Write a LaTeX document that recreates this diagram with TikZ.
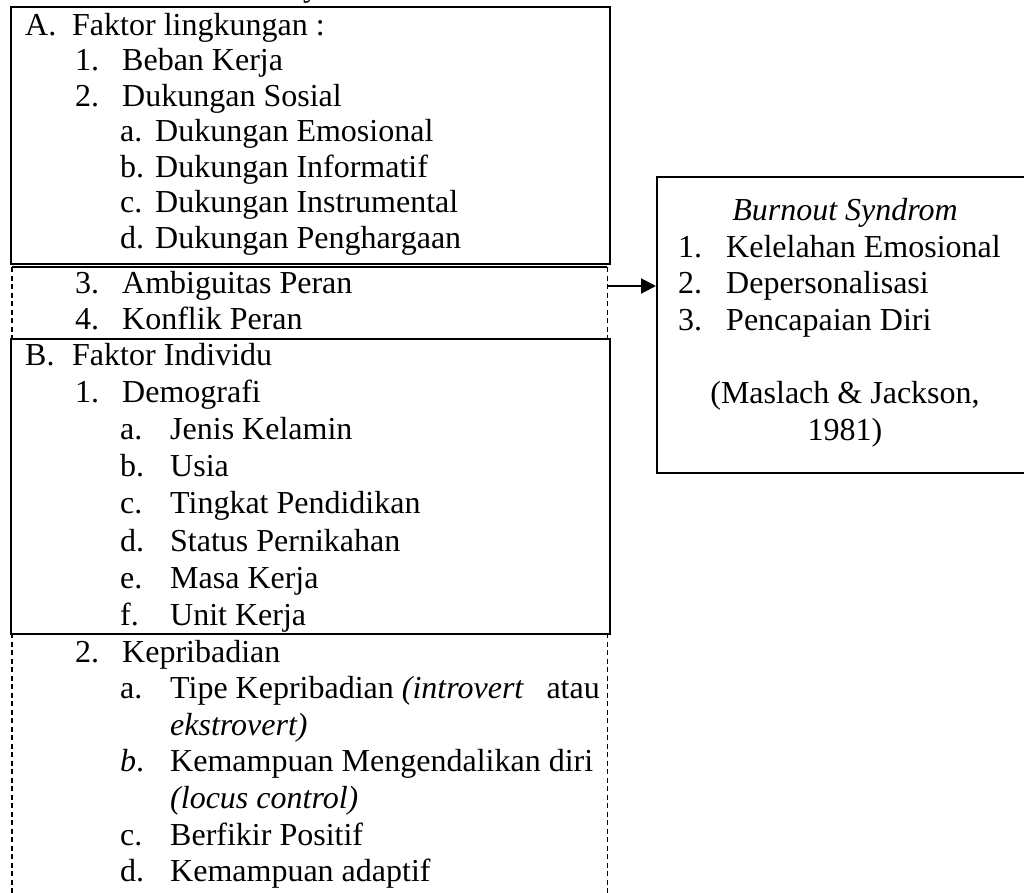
\documentclass[tikz,border=0pt]{standalone}
\usepackage{fontspec}
\setmainfont{Liberation Serif}
\usetikzlibrary{arrows.meta}
\begin{document}
\begin{tikzpicture}[x=1pt,y=-1pt,
  txt/.style={anchor=base west, inner sep=0pt, font=\fontsize{32}{36}\selectfont},
  rtxt/.style={anchor=base east, inner sep=0pt, font=\fontsize{32}{36}\selectfont},
  ctxt/.style={anchor=base, inner sep=0pt, font=\fontsize{32}{36}\selectfont},
  solidbox/.style={draw, line width=2pt, anchor=north west, inner sep=0pt},
  plainbox/.style={anchor=north west, inner sep=0pt},
  dashside/.style={line width=1.5pt, dash pattern=on 5pt off 3.5pt},
  thinline/.style={line width=1.5pt},
  conn/.style={line width=2pt, -{Triangle[length=15pt,width=15pt]}}]
\useasboundingbox (0,0) rectangle (1024,892);
\clip (0,0) rectangle (1024,892);
\fill[white] (0,0) rectangle (1024,892);

% fragment of text above, cut off
\node[txt] (frag) at (303,-4) {y};

% boxes
\node[solidbox, minimum width=599pt, minimum height=257pt] (boxA) at (10,6) {};
\node[solidbox, minimum width=599pt, minimum height=295pt] (boxB) at (10,338) {};
\node[solidbox, minimum width=380pt, minimum height=296pt] (burn) at (656,176) {};
\node[plainbox, minimum width=595pt, minimum height=71pt] (dashA) at (12,267) {};
\node[plainbox, minimum width=595pt, minimum height=300pt] (dashB) at (12,633) {};
\draw[thinline] (dashA.north west) -- (dashA.north east);
\draw[dashside] (dashA.north west) -- (dashA.south west);
\draw[dashside] (dashA.north east) -- (dashA.south east);
\draw[dashside] (dashB.north west) -- (dashB.south west);
\draw[dashside] (dashB.north east) -- (dashB.south east);

% arrow
\coordinate (arrS) at (607,286);
\draw[conn] (arrS) -- (arrS -| burn.west);

% Box A
\node[txt] (la) at (25,35) {A.};
\node[txt] (ta) at (72,35) {Faktor lingkungan :};
\node[txt] (l1) at (75,70.5) {1.};
\node[txt] (t1) at (122,70.5) {Beban Kerja};
\node[txt] (l2) at (75,106) {2.};
\node[txt] (t2) at (122,106) {Dukungan Sosial};
\node[txt] (l2a) at (120,141.5) {a.};
\node[txt] (t2a) at (155,141.5) {Dukungan Emosional};
\node[txt] (l2b) at (120,177) {b.};
\node[txt] (t2b) at (155,177) {Dukungan Informatif};
\node[txt] (l2c) at (120,212.5) {c.};
\node[txt] (t2c) at (155,212.5) {Dukungan Instrumental};
\node[txt] (l2d) at (120,248) {d.};
\node[txt] (t2d) at (155,248) {Dukungan Penghargaan};
\node[txt] (l3) at (75,293) {3.};
\node[txt] (t3) at (122,293) {Ambiguitas Peran};
\node[txt] (l4) at (75,329.5) {4.};
\node[txt] (t4) at (122,329.5) {Konflik Peran};

% Box B
\node[txt] (lb) at (25,365) {B.};
\node[txt] (tb) at (72,365) {Faktor Individu};
\node[txt] (lb1) at (75,402.2) {1.};
\node[txt] (tb1) at (122,402.2) {Demografi};
\node[txt] (lb1a) at (120,439.4) {a.};
\node[txt] (tb1a) at (170,439.4) {Jenis Kelamin};
\node[txt] (lb1b) at (120,476.6) {b.};
\node[txt] (tb1b) at (170,476.6) {Usia};
\node[txt] (lb1c) at (120,513.8) {c.};
\node[txt] (tb1c) at (170,513.8) {Tingkat Pendidikan};
\node[txt] (lb1d) at (120,551) {d.};
\node[txt] (tb1d) at (170,551) {Status Pernikahan};
\node[txt] (lb1e) at (120,588.2) {e.};
\node[txt] (tb1e) at (170,588.2) {Masa Kerja};
\node[txt] (lb1f) at (120,625) {f.};
\node[txt] (tb1f) at (170,625) {Unit Kerja};
\node[txt] (lb2) at (75,662) {2.};
\node[txt] (tb2) at (122,662) {Kepribadian};
\node[txt] (lb2a) at (120,698.6) {a.};
\node[txt] (tb2a) at (170,698.6) {Tipe Kepribadian \textit{(introvert}};
\node[rtxt] (tb2a2) at (600,698.6) {atau};
\node[txt] (tb2a3) at (170,735.2) {\textit{ekstrovert)}};
\node[txt] (lb2b) at (120,771.8) {\textit{b}.};
\node[txt] (tb2b) at (170,771.8) {Kemampuan Mengendalikan diri};
\node[txt] (tb2b2) at (170,808.4) {\textit{(locus control)}};
\node[txt] (lb2c) at (120,845) {c.};
\node[txt] (tb2c) at (170,845) {Berfikir Positif};
\node[txt] (lb2d) at (120,881.6) {d.};
\node[txt] (tb2d) at (170,881.6) {Kemampuan adaptif};

% Burnout box
\node[ctxt] (bt) at (845,220) {\textit{Burnout Syndrom}};
\node[txt] (bl1) at (678,257) {1.};
\node[txt] (bt1) at (726,257) {Kelelahan Emosional};
\node[txt] (bl2) at (678,293) {2.};
\node[txt] (bt2) at (726,293) {Depersonalisasi};
\node[txt] (bl3) at (678,330) {3.};
\node[txt] (bt3) at (726,330) {Pencapaian Diri};
\node[ctxt] (src1) at (845,403) {(Maslach \& Jackson,};
\node[ctxt] (src2) at (845,440) {1981)};
\end{tikzpicture}
\end{document}
